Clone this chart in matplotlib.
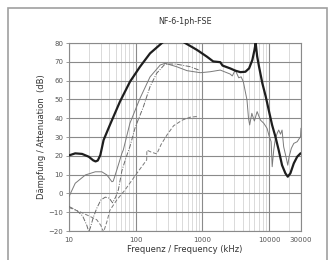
import numpy as np
import matplotlib.pyplot as plt
from matplotlib.patches import Rectangle
from matplotlib.ticker import FixedLocator, NullFormatter

# -------- data --------
title = 'NF-6-1ph-FSE'
x_ticks = [10, 100, 1000, 10000, 30000]
x_tick_labels = ['10', '100', '1000', '10000', '30000']
y_ticks = [-20, -10, 0, 10, 20, 30, 40, 50, 60, 70, 80]

# thick black curve
f_black = [10, 12.4, 15.7, 19.8, 23, 25, 27, 29.5, 33, 41, 58, 82, 116, 164, 247,
           350, 550, 830, 1170, 1450, 1850, 2000, 2600, 3100, 3700, 4400, 5000,
           5600, 6000, 6280, 6600, 7050, 7900, 8900, 9840, 11060, 12400, 13900,
           15600, 17500, 19000, 20800, 23400, 26300, 29500, 30000]
a_black = [20.2, 21.3, 21, 19.5, 17.6, 17, 17.5, 20.4, 28.4, 36.4, 48.8, 59.4, 67.4,
           74.5, 80, 84, 80, 76.3, 72.7, 70.2, 69.8, 68, 66.5, 65.3, 64.5, 64.7,
           66.5, 71, 76, 80, 73, 67.4, 58.6, 51.4, 44.4, 36.4, 30.2, 23, 15, 10.7,
           8.9, 10.7, 16, 19.5, 21.3, 21.3]

# thin grey solid curve
f_grey = [10, 12.4, 17.6, 24.8, 31, 37, 44, 46, 52, 62, 65, 82, 116, 164, 233, 275,
          410, 585, 930, 1300, 1850, 2600, 2800, 3100, 3500, 3800, 4100, 4650, 4900,
          5100, 5500, 6000, 6600, 7400, 8300, 9300, 9900, 10700, 11100, 11700, 12400,
          13200, 13900, 14800, 15600, 16500, 18300, 19000, 19900, 21500, 23400,
          26300, 29500, 30000]
a_grey = [-1.7, 5.4, 9.8, 11.5, 11.5, 9.8, 6.2, 6.5, 12.4, 21.3, 23, 37.4, 50.6, 62,
          68.3, 69.2, 67.4, 65.3, 64.2, 64.7, 65.6, 63.5, 62.5, 65.6, 61.5, 62, 59.4,
          49.7, 40, 36.4, 42.6, 38.5, 43.5, 39, 37.3, 34.6, 31, 27.5, 14.2, 23, 29.3,
          32, 33.7, 31.5, 33.7, 24.8, 17.8, 15, 19.5, 24, 26.6, 27.5, 30.2, 34.6]

# dash-dot curve
f_dashdot = [10, 13, 16, 18.5, 19.8, 21, 23, 26, 30, 35, 40, 45, 50, 55, 62, 70,
             82, 98, 130, 164, 206, 275, 400, 656, 900]
a_dashdot = [-7, -9, -12, -17, -20.5, -18, -13, -8, -3.5, -2, -2.5, -5, -2, 2, 12,
             18, 25, 35, 46, 56.8, 63.9, 68.8, 68.8, 67.4, 65.5]

# dashed curve
f_dashed = [10, 15, 20, 26, 30, 33, 37, 41, 52, 69, 104, 146, 147, 170, 207, 240,
            293, 370, 500, 650, 870]
a_dashed = [-7.5, -10, -12, -14, -17, -20.5, -15, -9, -3.5, 1.8, 10.7, 17.8, 23,
            22, 21, 26, 31, 36, 39, 40.5, 41]

# -------- figure --------
fig = plt.figure(figsize=(3.28, 2.6), dpi=100)
fig.patches.append(Rectangle((8 / 328, -0.05), 319 / 328, 1.05 - 8 / 260,
                             transform=fig.transFigure, fill=False,
                             edgecolor='#a0a0a0', linewidth=1.2))

ax = fig.add_axes([69 / 328, 29 / 260, 232 / 328, 188 / 260])
ax.set_xscale('log')
ax.set_xlim(10, 30000)
ax.set_ylim(-20, 80)

ax.plot(f_black, a_black, color='#1e1e1e', linewidth=1.6, zorder=5)
ax.plot(f_grey, a_grey, color='#7a7a7a', linewidth=0.7, zorder=4)
ax.plot(f_dashdot, a_dashdot, color='#6a6a6a', linewidth=0.7,
        linestyle=(0, (5, 1.5, 1, 1.5)), zorder=4)
ax.plot(f_dashed, a_dashed, color='#7a7a7a', linewidth=0.7,
        linestyle=(0, (4, 2)), zorder=4)

ax.xaxis.set_major_locator(FixedLocator(x_ticks))
ax.set_xticklabels(x_tick_labels)
minor = [m * 10 ** d for d in range(1, 5) for m in range(2, 10) if m * 10 ** d < 30000]
ax.xaxis.set_minor_locator(FixedLocator(minor))
ax.xaxis.set_minor_formatter(NullFormatter())
ax.set_yticks(y_ticks)

ax.grid(which='major', axis='x', color='#8a8a8a', linewidth=0.8)
ax.grid(which='minor', axis='x', color='#d4d4d4', linewidth=0.6)
ax.grid(which='major', axis='y', color='#8a8a8a', linewidth=0.8)
ax.set_axisbelow(True)

for s in ax.spines.values():
    s.set_color('#8a8a8a')
    s.set_linewidth(0.8)

ax.tick_params(axis='both', which='major', labelsize=5, colors='#8a8a8a',
               labelcolor='#555555', length=2, width=0.6, pad=2)
ax.tick_params(axis='x', which='major', length=0, pad=4)
ax.tick_params(axis='x', which='minor', length=0)

ax.set_title(title, fontsize=5.8, color='#333333', pad=14)
ax.set_xlabel('Frequenz / Frequency (kHz)', fontsize=6, color='#333333', labelpad=2)
ax.set_ylabel('Dämpfung / Attenuation  (dB)', fontsize=6, color='#333333', labelpad=2)

fig.savefig('out.png', dpi=100)
